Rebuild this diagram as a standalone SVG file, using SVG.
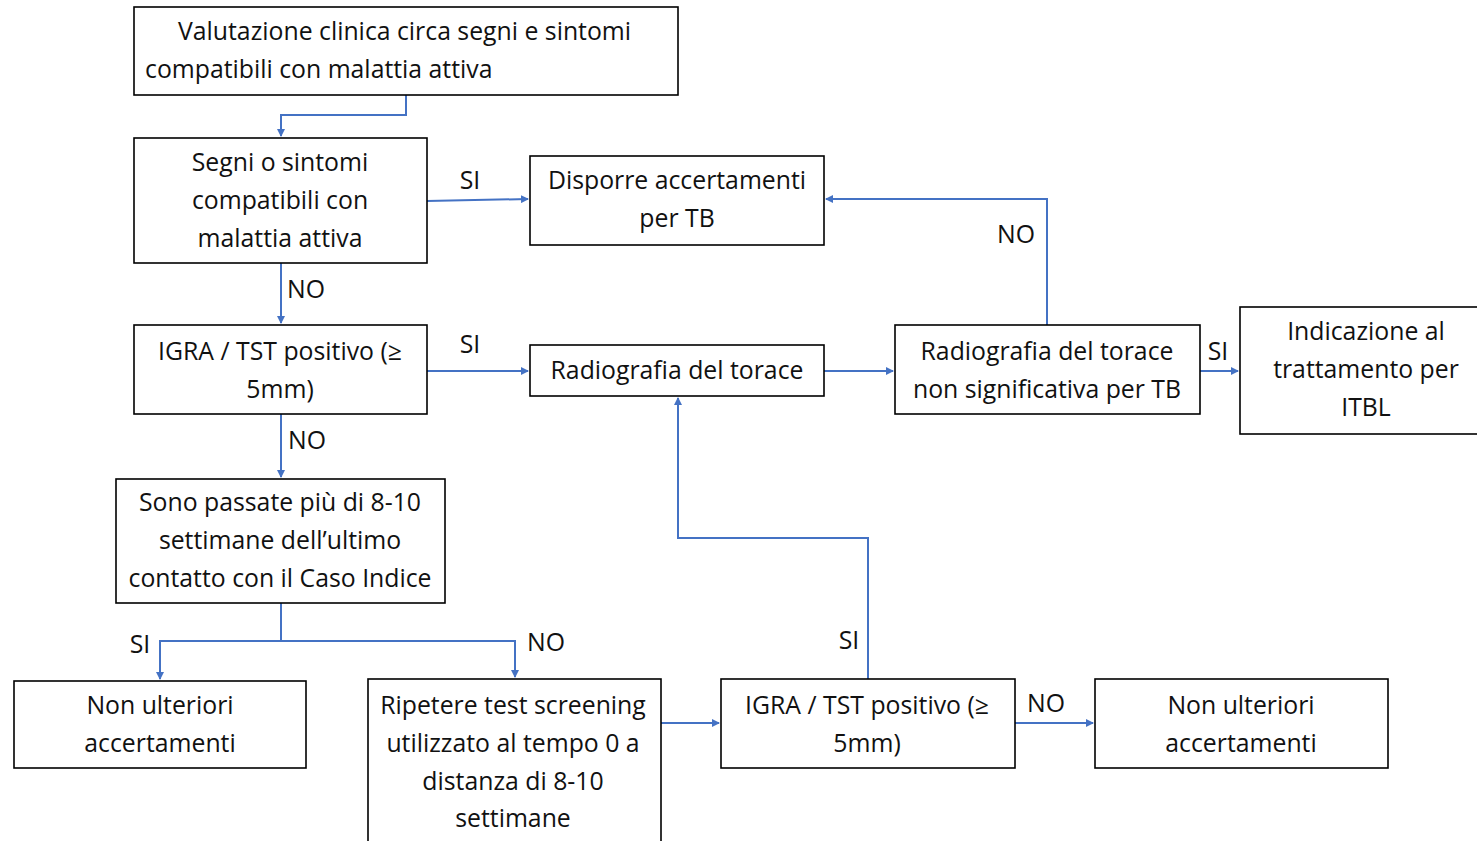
<svg xmlns="http://www.w3.org/2000/svg" width="1477" height="841" viewBox="0 0 1477 841">
<defs>
<marker id="ah" markerWidth="8" markerHeight="8" refX="7" refY="4" orient="auto" markerUnits="userSpaceOnUse">
<path d="M0,0 L8,4 L0,8 Z" fill="#4472C4"/>
</marker>
</defs>
<style>
.box{fill:#fff;stroke:#000;stroke-width:1.6}
.t{font-family:"Open Sans","Noto Sans",sans-serif;font-size:24.8px;fill:#111;text-anchor:middle;dominant-baseline:central}
.l{font-family:"Open Sans","Noto Sans",sans-serif;font-size:24.8px;fill:#111;dominant-baseline:central}
.c{fill:none;stroke:#4472C4;stroke-width:2;marker-end:url(#ah)}
</style>
<rect width="1477" height="841" fill="#fff"/>
<g id="connectors">
<path class="c" d="M406,95 V115 H281 V136"/>
<path class="c" d="M427,201 L528,199"/>
<path class="c" d="M281,263 V323"/>
<path class="c" d="M427,371 H528"/>
<path class="c" d="M281,414 V477"/>
<path class="c" d="M824,371 H893"/>
<path class="c" d="M1047,325 V199 H826"/>
<path class="c" d="M1200,371 H1238"/>
<path class="c" d="M281,603 V641 H160 V679"/>
<path class="c" d="M281,641 H515 V677"/>
<path class="c" d="M661,723 H719"/>
<path class="c" d="M868,679 V538 H678 V398"/>
<path class="c" d="M1015,723 H1093"/>
<text class="t" x="470" y="179">SI</text>
<text class="t" x="306" y="288">NO</text>
<text class="t" x="470" y="343">SI</text>
<text class="t" x="307" y="439">NO</text>
<text class="t" x="1016" y="233">NO</text>
<text class="t" x="1218" y="350">SI</text>
<text class="t" x="140" y="643">SI</text>
<text class="t" x="546" y="641">NO</text>
<text class="t" x="849" y="639">SI</text>
<text class="t" x="1046" y="702">NO</text>
</g>
<g id="n1">
<rect class="box" x="134" y="7" width="544" height="88"/>
<text class="l" x="178" y="30">Valutazione clinica circa segni e sintomi</text>
<text class="l" x="145" y="68">compatibili con malattia attiva</text>
</g>
<g id="n2">
<rect class="box" x="134" y="138" width="293" height="125"/>
<text class="t" x="280" y="161">Segni o sintomi</text>
<text class="t" x="280" y="199">compatibili con</text>
<text class="t" x="280" y="237">malattia attiva</text>
</g>
<g id="n3">
<rect class="box" x="530" y="156" width="294" height="89"/>
<text class="t" x="677" y="179">Disporre accertamenti</text>
<text class="t" x="677" y="217">per TB</text>
</g>
<g id="n4">
<rect class="box" x="134" y="325" width="293" height="89"/>
<text class="t" x="280" y="350">IGRA / TST positivo (≥</text>
<text class="t" x="280" y="388">5mm)</text>
</g>
<g id="n5">
<rect class="box" x="530" y="345" width="294" height="51"/>
<text class="t" x="677" y="369">Radiografia del torace</text>
</g>
<g id="n6">
<rect class="box" x="895" y="325" width="305" height="89"/>
<text class="t" x="1047" y="350">Radiografia del torace</text>
<text class="t" x="1047" y="388">non significativa per TB</text>
</g>
<g id="n7">
<rect class="box" x="1240" y="307" width="240" height="127"/>
<text class="t" x="1366" y="330">Indicazione al</text>
<text class="t" x="1366" y="368">trattamento per</text>
<text class="t" x="1366" y="406">ITBL</text>
</g>
<g id="n8">
<rect class="box" x="116" y="479" width="329" height="124"/>
<text class="t" x="280" y="501">Sono passate più di 8-10</text>
<text class="t" x="280" y="539">settimane dell’ultimo</text>
<text class="t" x="280" y="577">contatto con il Caso Indice</text>
</g>
<g id="n9">
<rect class="box" x="14" y="681" width="292" height="87"/>
<text class="t" x="160" y="704">Non ulteriori</text>
<text class="t" x="160" y="742">accertamenti</text>
</g>
<g id="n10">
<rect class="box" x="368" y="679" width="293" height="170"/>
<text class="t" x="513" y="704">Ripetere test screening</text>
<text class="t" x="513" y="742">utilizzato al tempo 0 a</text>
<text class="t" x="513" y="780">distanza di 8-10</text>
<text class="t" x="513" y="817">settimane</text>
</g>
<g id="n11">
<rect class="box" x="721" y="679" width="294" height="89"/>
<text class="t" x="867" y="704">IGRA / TST positivo (≥</text>
<text class="t" x="867" y="742">5mm)</text>
</g>
<g id="n12">
<rect class="box" x="1095" y="679" width="293" height="89"/>
<text class="t" x="1241" y="704">Non ulteriori</text>
<text class="t" x="1241" y="742">accertamenti</text>
</g>
</svg>
